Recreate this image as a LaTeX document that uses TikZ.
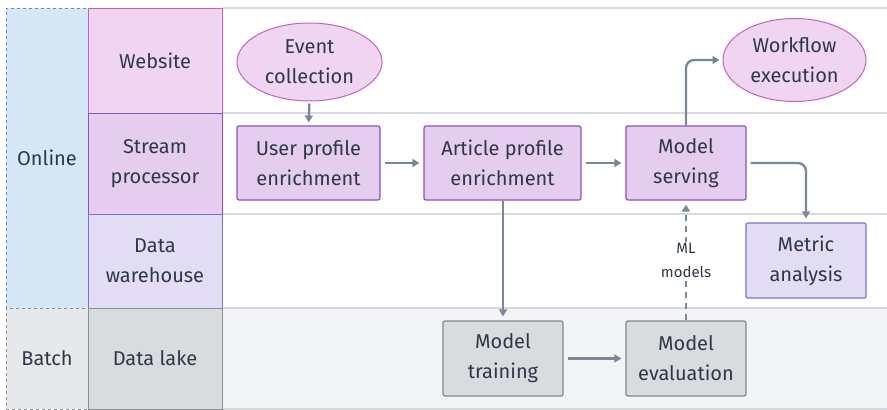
\documentclass[tikz,border=0pt]{standalone}
\usepackage{fontspec}
\setmainfont{Fira Sans}
\usetikzlibrary{arrows.meta,shapes.geometric}
\definecolor{txt}{HTML}{2E3846}
\definecolor{onlinefill}{HTML}{D5E6F4}
\definecolor{onlinedraw}{HTML}{5C93C8}
\definecolor{batchfill}{HTML}{E6E8EB}
\definecolor{batchdraw}{HTML}{8A9096}
\definecolor{pinkfill}{HTML}{F0D5F0}
\definecolor{pinkdraw}{HTML}{C262C4}
\definecolor{purpfill}{HTML}{E4CDEF}
\definecolor{purpdraw}{HTML}{8B52C2}
\definecolor{lavfill}{HTML}{E2DDF4}
\definecolor{lavdraw}{HTML}{7D6FD8}
\definecolor{grayfill}{HTML}{D9DCDF}
\definecolor{graydraw}{HTML}{7F8790}
\definecolor{lanefill}{HTML}{F3F4F6}
\definecolor{laneline}{HTML}{D6DAE0}
\definecolor{arrowc}{HTML}{7A8797}
\tikzset{
  lbl/.style={font=\fontsize{20}{30}\selectfont, text=txt, align=center},
  cell/.style={lbl, draw, line width=1pt, minimum width=134pt, inner sep=0pt},
  procbox/.style={lbl, draw, rounded corners=2pt, line width=1.2pt, inner sep=0pt},
  oval/.style={lbl, ellipse, draw, line width=1pt, inner sep=0pt},
  conn/.style={draw=arrowc, line width=2.3pt, rounded corners=8pt, -{Triangle[length=7pt,width=8pt]}},
}
\begin{document}
\begin{tikzpicture}[x=1pt,y=-1pt]
\useasboundingbox (0,0) rectangle (887,410);
\fill[white] (0,0) rectangle (887,410);
% batch lane background
\fill[lanefill] (222,308) rectangle (887,409);
% lane lines
\foreach \yy in {8,113,214,308,409}
  \draw[laneline, line width=1.5pt] (222,\yy) -- (887,\yy);
% left group column
\node[lbl, draw=onlinedraw, fill=onlinefill, dashed, line width=0.9pt, minimum width=82pt, minimum height=300pt, inner sep=0pt] (online) at (47,158) {Online};
\node[lbl, draw=batchdraw, fill=batchfill, dashed, line width=0.9pt, minimum width=82pt, minimum height=101pt, inner sep=0pt] (batch) at (47,358.5) {Batch};
% second column
\node[cell, draw=pinkdraw, fill=pinkfill, minimum height=105pt] (website) at (155,60.5) {Website};
\node[cell, draw=purpdraw, fill=purpfill, minimum height=101pt] (stream) at (155,163.5) {Stream\\processor};
\node[cell, draw=lavdraw, fill=lavfill, minimum height=94pt] (dwh) at (155,261) {Data\\warehouse};
\node[cell, draw=batchdraw, fill=grayfill, minimum height=101pt] (lake) at (155,358.5) {Data lake};
% process nodes
\node[oval, draw=pinkdraw, fill=pinkfill, minimum width=145pt, minimum height=78pt] (event) at (309.5,62) {Event\\collection};
\node[oval, draw=pinkdraw, fill=pinkfill, minimum width=143pt, minimum height=83pt] (workflow) at (794.5,60) {Workflow\\execution};
\node[procbox, draw=purpdraw, fill=purpfill, minimum width=143pt, minimum height=74pt] (user) at (308.5,163) {User profile\\enrichment};
\node[procbox, draw=purpdraw, fill=purpfill, minimum width=157pt, minimum height=74pt] (article) at (502.5,163) {Article profile\\enrichment};
\node[procbox, draw=purpdraw, fill=purpfill, minimum width=120pt, minimum height=74pt] (serving) at (686,163) {Model\\serving};
\node[procbox, draw=lavdraw, fill=lavfill, minimum width=120pt, minimum height=75pt] (metric) at (806,260.5) {Metric\\analysis};
\node[procbox, draw=graydraw, fill=grayfill, minimum width=120pt, minimum height=75pt] (training) at (503,358.5) {Model\\training};
\node[procbox, draw=graydraw, fill=grayfill, minimum width=120pt, minimum height=75pt] (evaluation) at (686,358.5) {Model\\evaluation};
% connectors
\draw[conn, shorten <=2pt, shorten >=3pt] (event.south) -- (user.north);
\draw[conn, shorten <=4pt, shorten >=4pt] (user.east) -- (article.west);
\draw[conn, shorten <=4pt, shorten >=4pt] (article.east) -- (serving.west);
\draw[conn, shorten <=0pt, shorten >=3pt] (serving.north) |- (workflow.west);
\draw[conn, shorten <=4pt, shorten >=4pt] (serving.east) -| (metric.north);
\draw[conn, shorten >=4pt] (article.south -| training.north) -- (training.north);
\draw[conn, shorten <=4pt, shorten >=4pt] (training.east) -- (evaluation.west);
\draw[conn, dashed, dash pattern=on 6pt off 5pt, shorten >=4pt] (evaluation.north) -- node[fill=white, font=\fontsize{15}{24}\selectfont, text=txt, align=center, inner sep=1pt] (mlm) {ML\\models} (serving.south);
\end{tikzpicture}
\end{document}
